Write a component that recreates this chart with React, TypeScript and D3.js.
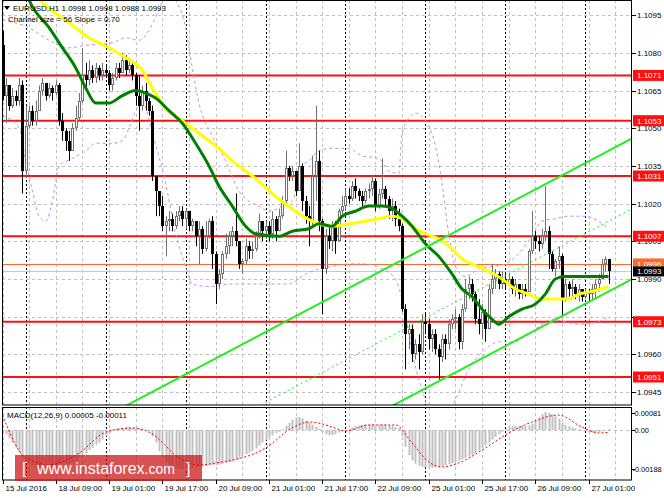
import * as d3 from "d3";

// EURUSD H1, first bar = 15 Jul 2016 17:00, one bar per hour
const firstOpen = 1.1083;
const closes = [
  1.1063, 1.1067, 1.1059, 1.1063, 1.1061, 1.1067, 1.1033, 1.1051, 1.1057, 1.1053,
  1.1057, 1.1065, 1.1068, 1.1063, 1.1066, 1.1064, 1.1067, 1.1053, 1.1049, 1.1045,
  1.1041, 1.105, 1.1054, 1.1061, 1.1071, 1.1069, 1.1073, 1.107, 1.1074, 1.1071,
  1.1073, 1.1072, 1.1067, 1.107, 1.1074, 1.1072, 1.1077, 1.1073, 1.1075, 1.1071,
  1.1063, 1.1059, 1.1065, 1.1061, 1.1057, 1.1031, 1.1025, 1.1019, 1.1011, 1.1013,
  1.1014, 1.1011, 1.1015, 1.1017, 1.1014, 1.1017, 1.1011, 1.1013, 1.1007, 1.101,
  1.1002, 1.1007, 1.1013, 1.1, 1.0988, 1.0992, 1.1, 1.1003, 1.1007, 1.1009,
  1.1005, 1.0996, 1.0997, 1.1003, 1.1001, 1.1002, 1.1007, 1.1013, 1.1009, 1.1011,
  1.1008, 1.1014, 1.1009, 1.1015, 1.1021, 1.1034, 1.1031, 1.1033, 1.1025, 1.1035,
  1.1021, 1.1015, 1.1013, 1.1031, 1.1037, 1.1013, 1.0994, 1.1007, 1.1005, 1.1011,
  1.1005, 1.1017, 1.1019, 1.1023, 1.1022, 1.1027, 1.1025, 1.1023, 1.1021, 1.1025,
  1.1026, 1.1029, 1.1019, 1.1024, 1.1026, 1.1022, 1.1017, 1.1019, 1.1014, 1.1011,
  1.0978, 1.0968, 1.097, 1.096, 1.0964, 1.0961, 1.0973, 1.0972, 1.0966, 1.0968,
  1.0962, 1.0959, 1.0966, 1.0964, 1.0972, 1.0974, 1.0975, 1.0965, 1.0978, 1.0986,
  1.0988, 1.0984, 1.0974, 1.0972, 1.0977, 1.097, 1.0986, 1.099, 1.0992, 1.0988,
  1.099, 1.0988, 1.099, 1.0986, 1.0988, 1.0984, 1.0986, 1.0985, 1.1001, 1.1007,
  1.1005, 1.1004, 1.1007, 1.1009, 1.1, 1.0994, 1.0997, 1.0999, 1.0982, 1.0988,
  1.0986, 1.0987, 1.0984, 1.0986, 1.0983, 1.0985, 1.0984, 1.0986, 1.0988, 1.099,
  1.0996, 1.0998, 1.0993,
];
const highs = [
  1.1089, 1.107, 1.1067, 1.1066, 1.1065, 1.107, 1.1069, 1.1059, 1.1059, 1.1059,
  1.1061, 1.1067, 1.107, 1.1068, 1.1068, 1.1067, 1.1069, 1.1068, 1.1056, 1.105,
  1.1049, 1.1052, 1.1059, 1.1064, 1.1082, 1.1076, 1.1077, 1.1075, 1.1076, 1.1075,
  1.1076, 1.1075, 1.1073, 1.1072, 1.1076, 1.1076, 1.108, 1.1079, 1.1078, 1.1076,
  1.1072, 1.1071, 1.1067, 1.1068, 1.1062, 1.1059, 1.1031, 1.1025, 1.1023, 1.1015,
  1.1017, 1.1016, 1.1017, 1.1019, 1.1019, 1.1018, 1.1017, 1.1014, 1.1013, 1.1013,
  1.1011, 1.1013, 1.1014, 1.1015, 1.1001, 1.0994, 1.1001, 1.1008, 1.1009, 1.1011,
  1.1024, 1.1005, 1.0998, 1.1006, 1.1005, 1.1005, 1.1009, 1.1016, 1.1013, 1.1013,
  1.1013, 1.1017, 1.1015, 1.1018, 1.1023, 1.1041, 1.1035, 1.1035, 1.1033, 1.1044,
  1.1036, 1.1023, 1.1019, 1.1039, 1.1059, 1.1041, 1.1014, 1.101, 1.1011, 1.1013,
  1.1013, 1.1018, 1.1023, 1.1026, 1.1026, 1.1029, 1.103, 1.1026, 1.1025, 1.1026,
  1.1028, 1.1031, 1.103, 1.1026, 1.1038, 1.1027, 1.1023, 1.1022, 1.1021, 1.1018,
  1.1012, 1.098, 1.0972, 1.0972, 1.0966, 1.0968, 1.0976, 1.0976, 1.0974, 1.097,
  1.097, 1.0964, 1.0968, 1.0968, 1.0974, 1.0976, 1.0978, 1.0976, 1.098, 1.099,
  1.0991, 1.099, 1.0985, 1.0982, 1.098, 1.0978, 1.0988, 1.0996, 1.0994, 1.0993,
  1.0993, 1.0992, 1.0992, 1.0991, 1.099, 1.0988, 1.0988, 1.0988, 1.1002, 1.1017,
  1.1009, 1.1007, 1.101, 1.1027, 1.1011, 1.1001, 1.0998, 1.1003, 1.1, 1.099,
  1.0989, 1.099, 1.0988, 1.0988, 1.0986, 1.0986, 1.0986, 1.0988, 1.099, 1.0992,
  1.0998, 1.0999, 1.0998,
];
const lows = [
  1.1061, 1.1052, 1.1057, 1.1058, 1.1059, 1.1059, 1.1024, 1.103, 1.105, 1.1051,
  1.1051, 1.1057, 1.1063, 1.1061, 1.1062, 1.1061, 1.1063, 1.1051, 1.1045, 1.1041,
  1.1037, 1.1041, 1.1049, 1.1053, 1.106, 1.1066, 1.1067, 1.1068, 1.1068, 1.1069,
  1.1069, 1.107, 1.1065, 1.1065, 1.1069, 1.107, 1.1072, 1.1071, 1.1072, 1.1069,
  1.1059, 1.1049, 1.1057, 1.1057, 1.1055, 1.1029, 1.1015, 1.1015, 1.1009, 1.0999,
  1.1009, 1.1009, 1.101, 1.1013, 1.1011, 1.101, 1.1009, 1.1009, 1.1003, 1.0996,
  1.1, 1.1001, 1.1006, 1.0994, 1.098, 1.0986, 1.099, 1.0998, 1.1, 1.1003,
  1.1003, 1.0994, 1.0992, 1.0996, 1.0998, 1.0998, 1.1001, 1.1006, 1.1005, 1.1006,
  1.1005, 1.1006, 1.1005, 1.1009, 1.1014, 1.1019, 1.1029, 1.1029, 1.1023, 1.1025,
  1.1017, 1.1012, 1.1003, 1.1011, 1.1021, 1.1009, 1.0976, 1.0992, 1.1002, 1.1001,
  1.1, 1.1005, 1.1015, 1.1017, 1.102, 1.1021, 1.1022, 1.1021, 1.1019, 1.102,
  1.1022, 1.1023, 1.1017, 1.1018, 1.1022, 1.1019, 1.1014, 1.1013, 1.1011, 1.1009,
  1.0977, 1.0954, 1.0962, 1.0957, 1.0958, 1.0954, 1.096, 1.0968, 1.0962, 1.0961,
  1.096, 1.095, 1.0957, 1.0958, 1.0962, 1.097, 1.097, 1.0962, 1.0962, 1.0977,
  1.0982, 1.0981, 1.0972, 1.0968, 1.0966, 1.0965, 1.097, 1.0984, 1.0986, 1.0986,
  1.0986, 1.0986, 1.0987, 1.0984, 1.0983, 1.0982, 1.0982, 1.0983, 1.0985, 1.1,
  1.1002, 1.1001, 1.1002, 1.1005, 1.0994, 1.0993, 1.0991, 1.0994, 1.0975, 1.0981,
  1.0983, 1.0982, 1.0982, 1.0981, 1.0981, 1.0982, 1.0981, 1.0982, 1.0982, 1.0985,
  1.099, 1.0993, 1.0988,
];

// MACD(12,26,9) histogram, in units of 0.00001
const macdHist = [
  -5, -20, -40, -60, -85, -105, -130, -145, -160, -170,
  -180, -185, -185, -185, -180, -175, -170, -165, -160, -160,
  -160, -155, -150, -130, -120, -110, -95, -85, -70, -60,
  -45, -30, -15, 0, 5, 8, 10, 12, 12, 10,
  8, 5, 3, 0, -5, -30, -60, -100, -130, -150,
  -165, -175, -180, -185, -185, -185, -185, -180, -178, -175,
  -172, -170, -168, -168, -167, -165, -162, -158, -154, -150,
  -142, -135, -125, -115, -108, -100, -88, -75, -60, -48,
  -35, -25, -15, -8, 5, 20, 35, 50, 60, 62,
  55, 45, 35, 25, 15, 5, -10, -20, -25, -25,
  -20, -12, -5, 0, 5, 12, 18, 22, 25, 26,
  26, 27, 25, 25, 26, 25, 22, 20, 15, 10,
  -30, -80, -120, -145, -160, -170, -175, -178, -180, -180,
  -178, -176, -172, -168, -163, -158, -152, -146, -140, -134,
  -128, -120, -110, -98, -85, -72, -58, -45, -32, -20,
  -8, 5, 12, 18, 20, 20, 20, 18, 22, 30,
  45, 60, 75, 85, 82, 75, 65, 55, 35, 25,
  18, 12, 8, 4, 0, -5, -10, -12, -12, -10,
  -5, 2, 5,
];
const signalBars = [0, 7, 14, 23, 31, 39, 44, 54, 59, 64, 79, 87, 92, 95, 99, 103, 110, 118, 123, 128, 132, 137, 145, 152, 159, 167, 174, 179, 182];
const signalVals = [71, -133, -165, -110, -10, 10, -10, -143, -167, -157, -86, 10, 38, 33, 14, -5, 24, 24, -62, -152, -176, -157, -86, -14, 38, 71, 14, -14, -11];

// moving averages
const greenBars = [5, 8, 14, 18, 22, 25, 28, 32, 36, 40, 43, 46, 50, 54, 58, 62, 65, 69, 73, 76, 83, 87, 92, 95, 99, 102, 106, 110, 114, 117, 120, 123, 127, 131, 135, 138, 141, 144, 147, 149, 152, 156, 160, 163, 166, 169, 174, 179, 182];
const greenVals = [1.1113, 1.1101, 1.109, 1.1082, 1.1074, 1.1066, 1.106, 1.106, 1.1063, 1.1065, 1.1064, 1.1062, 1.1057, 1.1052, 1.1044, 1.1035, 1.1027, 1.1019, 1.1011, 1.1008, 1.1007, 1.1009, 1.101, 1.1012, 1.1011, 1.1015, 1.1017, 1.1019, 1.1019, 1.1018, 1.1015, 1.1011, 1.1004, 1.0999, 1.0992, 1.0986, 1.0983, 1.0978, 1.0974, 1.0972, 1.0975, 1.0978, 1.098, 1.0984, 1.099, 1.0991, 1.0991, 1.0991, 1.0991];
const yellowBars = [8, 12, 19, 26, 32, 37, 42, 45, 49, 54, 59, 64, 69, 75, 82, 89, 95, 99, 104, 109, 113, 117, 120, 123, 127, 131, 135, 138, 141, 146, 150, 154, 158, 162, 166, 170, 173, 177, 182];
const yellowVals = [1.1107, 1.11, 1.1093, 1.1086, 1.1082, 1.1078, 1.1073, 1.1066, 1.1058, 1.1053, 1.1048, 1.1043, 1.1037, 1.1031, 1.1023, 1.1016, 1.1012, 1.1011, 1.1012, 1.1013, 1.1014, 1.1015, 1.1014, 1.1011, 1.1008, 1.1006, 1.1002, 1.0998, 1.0996, 1.0993, 1.099, 1.0986, 1.0984, 1.0982, 1.0982, 1.0982, 1.0984, 1.0985, 1.0987];

// Bollinger-style bands (dashed violet)
const upperBars = [0, 8, 14, 20, 25, 33, 37, 41, 44, 47, 50, 52, 55, 57, 59, 63, 67, 71, 74, 77, 80, 84, 87, 90, 92, 95, 99, 104, 108, 113, 116, 119, 120, 122, 124, 127, 130, 132, 134, 136, 139, 143, 147, 151, 155, 159, 162, 166, 170, 175, 179, 182];
const upperVals = [1.1093, 1.109, 1.1085, 1.1082, 1.1083, 1.1084, 1.1086, 1.1085, 1.1089, 1.1097, 1.1105, 1.1101, 1.109, 1.1074, 1.106, 1.1047, 1.1037, 1.1025, 1.1021, 1.1019, 1.1017, 1.1019, 1.1021, 1.1035, 1.1037, 1.1041, 1.1042, 1.1042, 1.1039, 1.1038, 1.1033, 1.1032, 1.1048, 1.1054, 1.1056, 1.1053, 1.1043, 1.1028, 1.1008, 1.0995, 1.0991, 1.0994, 1.0995, 1.0996, 1.1, 1.1007, 1.1013, 1.1014, 1.1015, 1.1015, 1.1013, 1.101];
const lowerBars = [0, 5, 7, 9, 11, 13, 15, 17, 21, 25, 28, 33, 36, 38, 40, 42, 45, 49, 52, 55, 57, 62, 69, 79, 86, 91, 95, 99, 104, 109, 114, 118, 120, 122, 124, 126, 128, 131, 136, 140, 145, 149, 153, 157, 161, 165, 169, 173, 179, 182];
const lowerVals = [1.1055, 1.105, 1.1037, 1.1025, 1.1015, 1.1013, 1.1021, 1.1035, 1.1038, 1.1041, 1.1044, 1.1044, 1.1045, 1.105, 1.1057, 1.1061, 1.1048, 1.1028, 1.1008, 1.0995, 1.0988, 1.0987, 1.0988, 1.0988, 1.0988, 1.0992, 1.0994, 1.0995, 1.0996, 1.0996, 1.0994, 1.099, 1.0982, 1.0969, 1.0955, 1.0946, 1.0938, 1.0934, 1.0942, 1.0954, 1.0962, 1.0965, 1.0965, 1.0967, 1.0971, 1.0974, 1.0973, 1.0972, 1.0973, 1.0975];

// levels and labels (1.0975 sits under the 1.0973 tag, so it has a grid line but no text)
const priceTicks = [1.0945, 1.096, 1.0975, 1.099, 1.1005, 1.102, 1.1035, 1.105, 1.1065, 1.108, 1.1095];
const hiddenTick = 1.0975;
const redLevels = [1.1071, 1.1053, 1.1031, 1.1007, 1.0973, 1.0951];
const orangeLevel = 1.0996;
const bidPrice = 1.0993;
const timeLabels = ["15 Jul 2016", "18 Jul 09:00", "19 Jul 01:00", "19 Jul 17:00", "20 Jul 09:00", "21 Jul 01:00", "21 Jul 17:00", "22 Jul 09:00", "25 Jul 01:00", "25 Jul 17:00", "26 Jul 09:00", "27 Jul 01:00"];
const dayStartBars = [7, 31, 55, 79, 103, 127, 151, 175];
const macdTicks = [0.00081, 0, -0.00188];
const macdTickLabels = ["0.00081", "0.00", "-0.00188"];

// regression channel: 56 pips wide, slope 0.70 pips per bar
const channelEndBar = 182;
const channelLowEnd = 1.0985;
const channelSlope = 0.00007;
const channelSize = 0.0056;

const FONT = "'Liberation Sans', Arial, sans-serif";

export default function App() {
  const W = 664;
  const H = 498;
  const L = 2;
  const R = 632;
  const mainBot = 405;
  const mTop = 407;
  const mBot = 480;

  const x = d3.scaleLinear().domain([0, 189]).range([2.5, 2.5 + 189 * 3.33]);
  const y = d3.scaleLinear().domain([1.093986, 1.110102]).range([mainBot, 0]);
  const ym = d3.scaleLinear().domain([-0.00238, 0.001095]).range([mBot, mTop]);

  const curveLine = (bars: number[], vals: number[]) =>
    d3
      .line<number>()
      .x((_, i) => x(bars[i]))
      .y((v) => y(v))
      .curve(d3.curveMonotoneX)(vals) || "";

  const signalPath =
    d3
      .line<number>()
      .x((_, i) => x(signalBars[i]))
      .y((v) => ym(v * 1e-5))
      .curve(d3.curveMonotoneX)(signalVals) || "";

  const chan = (offset: number) => {
    const b0 = -10;
    const b1 = 195;
    const p = (b: number) => channelLowEnd + offset - channelSlope * (channelEndBar - b);
    return { x1: x(b0), y1: y(p(b0)), x2: x(b1), y2: y(p(b1)) };
  };
  const chLow = chan(0);
  const chMid = chan(channelSize / 2);
  const chUp = chan(channelSize);

  const gridBars = d3.range(0, 190, 8);
  const crisp = (v: number) => Math.round(v) + 0.5;

  return (
    <svg
      width={W}
      height={H}
      style={{ position: "absolute", left: 0, top: 0, background: "#fff" }}
      fontFamily={FONT}
    >
      <defs>
        <clipPath id="mainClip">
          <rect x={L} y={0} width={R - L} height={mainBot} />
        </clipPath>
        <clipPath id="macdClip">
          <rect x={L} y={mTop} width={R - L} height={mBot - mTop} />
        </clipPath>
      </defs>

      {/* grid */}
      {priceTicks.map((p) => (
        <line key={"hg" + p} x1={L} x2={R} y1={crisp(y(p))} y2={crisp(y(p))} stroke="#c0c0c0" strokeDasharray="3,3" />
      ))}
      <line x1={L} x2={R} y1={crisp(ym(0))} y2={crisp(ym(0))} stroke="#c0c0c0" strokeDasharray="3,3" />
      {gridBars.map((b) => (
        <g key={"vg" + b}>
          <line x1={crisp(x(b))} x2={crisp(x(b))} y1={0} y2={mainBot} stroke="#c0c0c0" strokeDasharray="3,3" />
          <line x1={crisp(x(b))} x2={crisp(x(b))} y1={mTop} y2={mBot} stroke="#c0c0c0" strokeDasharray="3,3" />
        </g>
      ))}
      {dayStartBars.map((b) => (
        <g key={"ds" + b}>
          <line x1={crisp(x(b))} x2={crisp(x(b))} y1={0} y2={mainBot} stroke="#000" strokeDasharray="2,2" />
          <line x1={crisp(x(b))} x2={crisp(x(b))} y1={mTop} y2={mBot} stroke="#000" strokeDasharray="2,2" />
        </g>
      ))}

      <g clipPath="url(#mainClip)">
        {/* horizontal levels */}
        {redLevels.map((p) => (
          <line key={"rl" + p} x1={L} x2={R} y1={y(p)} y2={y(p)} stroke="#ff1010" strokeWidth={2} />
        ))}
        <line x1={L} x2={R} y1={crisp(y(orangeLevel))} y2={crisp(y(orangeLevel))} stroke="#ff6a2a" />
        <line x1={L} x2={R} y1={crisp(y(bidPrice))} y2={crisp(y(bidPrice))} stroke="#c8c8c8" />

        {/* bands */}
        <path d={curveLine(upperBars, upperVals)} fill="none" stroke="#c38cf0" strokeDasharray="3,3" />
        <path d={curveLine(lowerBars, lowerVals)} fill="none" stroke="#c38cf0" strokeDasharray="3,3" />

        {/* candles */}
        {closes.map((c, i) => {
          const o = i === 0 ? firstOpen : closes[i - 1];
          const cx = Math.round(x(i));
          const top = Math.round(y(Math.max(o, c)));
          const bot = Math.round(y(Math.min(o, c)));
          const bull = c >= o;
          const col = bull ? "#707070" : "#000";
          return (
            <g key={"c" + i}>
              <line x1={cx + 0.5} x2={cx + 0.5} y1={y(highs[i])} y2={y(lows[i])} stroke={col} />
              {bull ? (
                <rect x={cx - 0.5} y={top + 0.5} width={2} height={Math.max(bot - top - 1, 0)} fill="#fff" stroke={col} />
              ) : (
                <rect x={cx - 1} y={top} width={3} height={Math.max(bot - top, 1)} fill="#000" />
              )}
            </g>
          );
        })}

        {/* moving averages */}
        <path d={curveLine(yellowBars, yellowVals)} fill="none" stroke="#ffff00" strokeWidth={3} />
        <path d={curveLine(greenBars, greenVals)} fill="none" stroke="#008000" strokeWidth={3} />

        {/* channel */}
        <line {...chUp} stroke="#22ee22" strokeWidth={2} />
        <line {...chLow} stroke="#22ee22" strokeWidth={2} />
        <line {...chMid} stroke="#22ee22" strokeDasharray="2,3" />
      </g>

      {/* MACD */}
      <g clipPath="url(#macdClip)">
        {macdHist.map((v, i) => {
          const cx = Math.round(x(i));
          const y0 = ym(0);
          const y1 = ym(v * 1e-5);
          return (
            <rect key={"h" + i} x={cx - 0.5} y={Math.min(y0, y1)} width={2} height={Math.max(Math.abs(y1 - y0), 0.5)} fill="#c0c0c0" />
          );
        })}
        <path d={signalPath} fill="none" stroke="#ff0000" strokeDasharray="2,2" />
      </g>

      {/* frames */}
      <rect x={L + 0.5} y={0.5} width={R - L - 1} height={mainBot - 0.5} fill="none" stroke="#000" />
      <rect x={L + 0.5} y={mTop + 0.5} width={R - L - 1} height={mBot - mTop - 0.5} fill="none" stroke="#000" />

      {/* header texts */}
      <path d="M4,6 L10,6 L7,10 Z" fill="#000" />
      <text x={13} y={11} fontSize={8} fill="#000">
        EURUSD,H1  1.0998 1.0998 1.0988 1.0993
      </text>
      <text x={8} y={22} fontSize={8} fill="#000">
        Channel size = 56 Slope = 0.70
      </text>
      <text x={7} y={418} fontSize={8} fill="#000">
        MACD(12,26,9) 0.00005 -0.00011
      </text>

      {/* price axis */}
      {priceTicks.map((p) => (
        <g key={"pt" + p}>
          <line x1={R} x2={R + 4} y1={crisp(y(p))} y2={crisp(y(p))} stroke="#000" />
          {p !== hiddenTick && (
            <text x={637} y={y(p) + 3} fontSize={8} fill="#000">
              {p.toFixed(4)}
            </text>
          )}
        </g>
      ))}
      {macdTicks.map((v, i) => (
        <g key={"mt" + i}>
          <line x1={R} x2={R + 3} y1={crisp(ym(v))} y2={crisp(ym(v))} stroke="#000" />
          <text x={v < 0 ? 632.5 : 634.5} y={ym(v) + 3} fontSize={7.4} fill="#000">
            {macdTickLabels[i]}
          </text>
        </g>
      ))}
      {redLevels.map((p) => (
        <g key={"rlab" + p}>
          <rect x={R + 1} y={y(p) - 5.5} width={W - R - 1} height={11} fill="#ff1010" />
          <text x={637} y={y(p) + 3} fontSize={8} fill="#fff">
            {p.toFixed(4)}
          </text>
        </g>
      ))}
      <rect x={R + 1} y={y(orangeLevel) - 5.5} width={W - R - 1} height={11} fill="#ff6a2a" />
      <text x={637} y={y(orangeLevel) + 3} fontSize={8} fill="#fff">
        {orangeLevel.toFixed(4)}
      </text>
      <rect x={R + 1} y={y(bidPrice) - 5} width={W - R - 1} height={10} fill="#000" />
      <text x={637} y={y(bidPrice) + 3} fontSize={8} fill="#fff">
        {bidPrice.toFixed(4)}
      </text>

      {/* time axis */}
      {timeLabels.map((t, k) => {
        const tx = crisp(x(k * 16));
        return (
          <g key={"tl" + k}>
            <line x1={tx} x2={tx} y1={mBot} y2={mBot + 4} stroke="#000" />
            <text x={tx + 2} y={491} fontSize={8} fill="#000">
              {t}
            </text>
          </g>
        );
      })}

      {/* watermark */}
      <rect x={15} y={455} width={187} height={26} fill="#cc1010" opacity={0.72} />
      <text y={474} fill="#fff" fontSize={16}>
        <tspan x={22}>[</tspan>
        <tspan x={37}>www.instaforex</tspan>
        <tspan fontSize={14}>.com</tspan>
        <tspan x={186}>]</tspan>
      </text>
    </svg>
  );
}
